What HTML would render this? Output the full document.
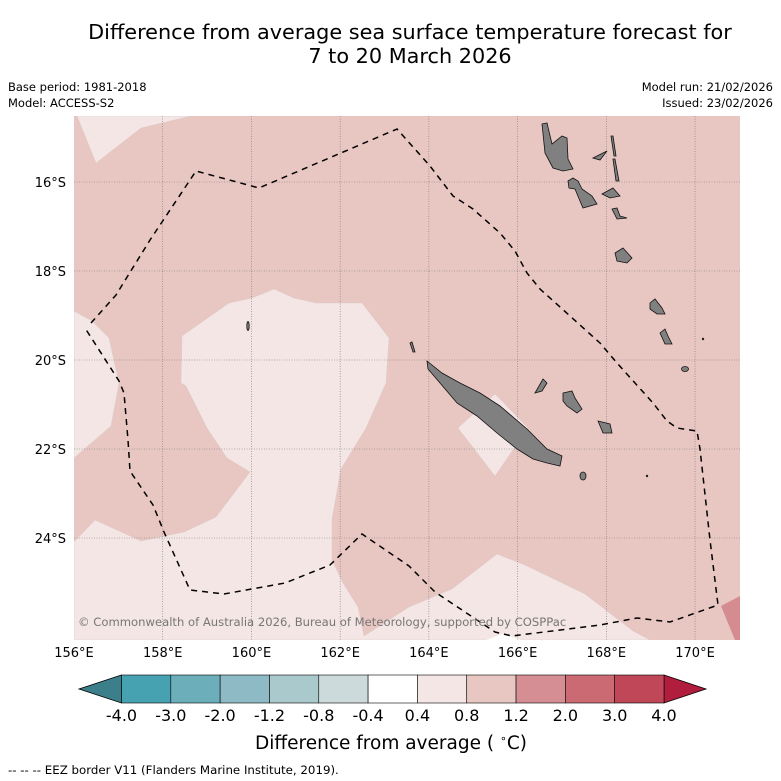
<!DOCTYPE html>
<html><head><meta charset="utf-8"><style>
html,body{margin:0;padding:0;background:#fff}
svg{display:block;font-family:"DejaVu Sans","Liberation Sans",sans-serif}
</style></head><body>
<svg id="chart" width="781" height="781" viewBox="0 0 781 781" xmlns="http://www.w3.org/2000/svg">
<rect width="781" height="781" fill="#fff"/>
<text x="410" y="39" font-size="20.8" text-anchor="middle">Difference from average sea surface temperature forecast for</text>
<text x="410" y="63" font-size="20.8" text-anchor="middle">7 to 20 March 2026</text>
<text x="8" y="91" font-size="11.5">Base period: 1981-2018</text>
<text x="8" y="107" font-size="11.5">Model: ACCESS-S2</text>
<text x="773" y="91" font-size="11.5" text-anchor="end">Model run: 21/02/2026</text>
<text x="773" y="107" font-size="11.5" text-anchor="end">Issued: 23/02/2026</text>

<defs><clipPath id="mapclip"><rect x="74" y="116" width="666" height="524"/></clipPath></defs>
<g clip-path="url(#mapclip)">
<rect x="74" y="116" width="666" height="524" fill="#e8c6c1"/>
<polygon fill="#f4e6e4" stroke="#dcc" stroke-width="0.5" points="77,116 191,116 141,128 96,163"/>
<polygon fill="#f4e6e4" stroke="#dcc" stroke-width="0.5" points="74,311 92,321 109,338 119,383 111,426 74,458"/>
<polygon fill="#f4e6e4" stroke="#dcc" stroke-width="0.5" points="74,542 95,520 141,541 184,532 216,517 250,472 227,458 207,428 186,386 181,383 182,336 229,303 252,298 274,289 294,298 316,303 362,303 389,338 386,383 366,428 341,469 332,519 332,560 343,583 358,607 364,636 409,607 452,589 497,554 525,565 585,594 633,631 650,640 74,640"/>
<polygon fill="#f4e6e4" stroke="#dcc" stroke-width="0.5" points="458,428 495,394 528,428 495,476"/>
<polygon fill="#d48c91" points="721,606 740,596 740,640 735,640"/>
<polygon fill="#fff" points="486,640 502,634 521,640"/>
<g id="grid" stroke="#777" stroke-width="0.6" stroke-dasharray="1,1.5"></g>
<g fill="#808080" stroke="#111" stroke-width="0.8">
<polygon points="427,361 442,373 460,383 480,393 500,406 527,429 547,449 562,456 560,466 547,463 533,459 517,449 497,433 477,416 457,403 440,383 428,369"/>
<polygon points="542,124 547,123 552,144 562,136 567,138 568,159 573,169 563,171 553,168 545,153"/>
<polygon points="611,136 613,136 616,156 614,156"/>
<polygon points="613,159 615,159 619,181 616,181"/>
<polygon points="593,158 607,151 600,160"/>
<polygon points="568,181 573,178 578,181 582,189 592,196 597,204 583,208 580,201 575,189 569,188"/>
<polygon points="602,194 613,188 620,196 610,198"/>
<polygon points="612,209 617,208 620,216 627,218 617,219"/>
<polygon points="615,253 623,248 632,258 627,263 617,261"/>
<polygon points="650,303 655,299 662,308 665,314 657,314 650,309"/>
<polygon points="660,333 665,329 668,336 672,344 665,344"/>
<ellipse cx="685" cy="369" rx="3.5" ry="2.5"/>
<polygon points="535,393 543,379 547,383 542,391"/>
<polygon points="563,393 572,391 575,398 582,409 577,413 567,406 563,401"/>
<polygon points="598,421 610,424 612,433 603,433"/>
<ellipse cx="583" cy="476" rx="3" ry="4"/>
<polygon points="410,343 412,342 415,352 413,352"/>
<ellipse cx="248" cy="326" rx="1.2" ry="4.5"/>
<ellipse cx="647" cy="476" rx="0.8" ry="0.8"/>
<ellipse cx="703" cy="339" rx="0.8" ry="0.8"/>
</g>
<polyline fill="none" stroke="#000" stroke-width="1.5" stroke-dasharray="6,5" points="91,323 116,295 150,240 196,171 259,188 397,129 430,166 453,196 473,209 500,233 515,251 527,273 540,289 570,316 600,343 617,363 653,403 667,421 677,428 697,431 700,449 710,540 718,605 670,622 637,618 600,625 512,636 495,632 435,592 409,566 362,534 330,565 285,583 224,594 190,590 164,532 153,505 130,471 128,440 124,393 119,381 85,328"/>
<text x="78" y="626" font-size="11.6" fill="#777">© Commonwealth of Australia 2026, Bureau of Meteorology, supported by COSPPac</text>
</g>
<g id="axes" font-size="13"></g>

<g id="cbar"></g>
<text x="391" y="749" font-size="18.5" text-anchor="middle">Difference from average ( <tspan font-size="11" dy="-7">∘</tspan><tspan dy="7">C)</tspan></text>
<text x="8" y="774" font-size="11.8">--  --  -- EEZ border V11 (Flanders Marine Institute, 2019).</text>
</svg>
<script>
const lonTicks = [156,158,160,162,164,166,168,170];
const latTicks = [16,18,20,22,24];
const cbarBounds = ["-4.0","-3.0","-2.0","-1.2","-0.8","-0.4","0.4","0.8","1.2","2.0","3.0","4.0"];
const cbarColors = ["#46a1b1","#6cafbb","#8dbac4","#aac9cc","#cddadb","#ffffff","#f4e6e4","#e8c6c1","#d68e95","#cc6a73","#c04757"];
const cbarUnder = "#3a7f8a";
const cbarOver = "#b11d3c";

const NS="http://www.w3.org/2000/svg";
function mk(tag, attrs, parent){const e=document.createElementNS(NS,tag);for(const k in attrs)e.setAttribute(k,attrs[k]);parent.appendChild(e);return e;}
const x0=74,x1=740,y0=116,y1=640;
const xScale = lon => 74 + (lon-156)*44.36;
const yScale = lat => 182 + (lat-16)*44.5;
const grid=document.getElementById('grid');
const axes=document.getElementById('axes');
lonTicks.forEach(l=>{
  const x=xScale(l);
  if(x>x0+1){const g=mk('line',{x1:x,x2:x,y1:y0,y2:y1},grid);
  
  }
  const t=mk('text',{x:x,y:657,'text-anchor':'middle'},axes);
  t.textContent=l+'°E';
  
  
});
latTicks.forEach(l=>{
  const y=yScale(l);
  const g=mk('line',{x1:x0,x2:x1,y1:y,y2:y},grid);
  
  
  const t=mk('text',{x:66,y:y+5,'text-anchor':'end'},axes);
  t.textContent=l+'°S';
  
  
});
const cb=document.getElementById('cbar');
const cx0=121.5,cx1=664,cyT=675,cyB=703,cyM=689;
const w=(cx1-cx0)/cbarColors.length;
const under=mk('polygon',{points:`${cx0},${cyT} 79,${cyM} ${cx0},${cyB}`,fill:cbarUnder,stroke:'#000','stroke-width':0.8},cb);


const over=mk('polygon',{points:`${cx1},${cyT} 706,${cyM} ${cx1},${cyB}`,fill:cbarOver,stroke:'#000','stroke-width':0.8},cb);


cbarColors.forEach((c,i)=>{
  const r=mk('rect',{x:cx0+i*w,y:cyT,width:w,height:cyB-cyT,fill:c,stroke:'#000','stroke-width':0.6},cb);
  
  
});
cbarBounds.forEach((b,i)=>{
  const t=mk('text',{x:cx0+i*w,y:721,'font-size':16,'text-anchor':'middle'},cb);
  t.textContent=b;
  
  
});
</script>
</body></html>
